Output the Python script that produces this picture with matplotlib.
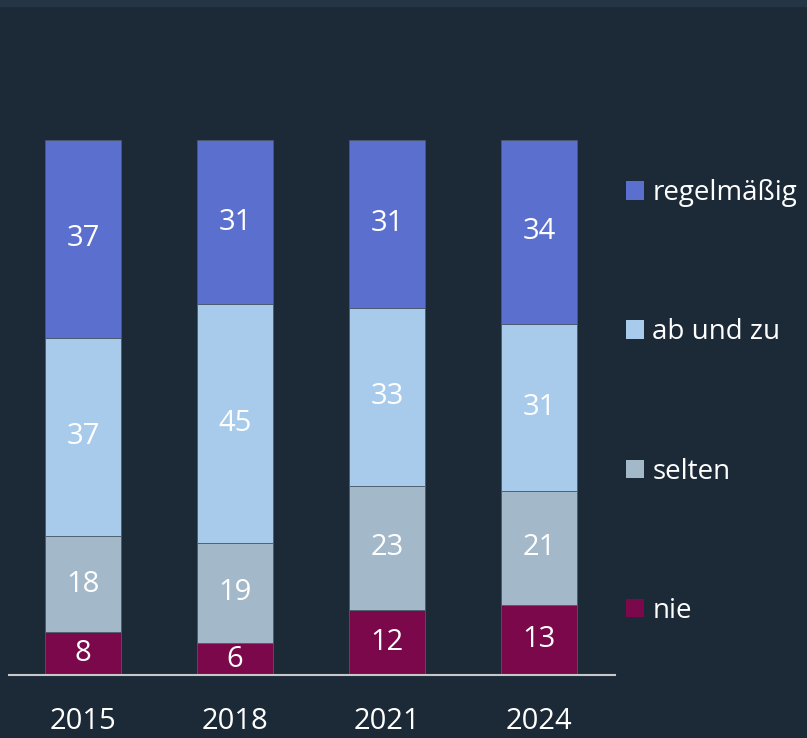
import matplotlib

matplotlib.use("Agg")
import matplotlib.pyplot as plt
import numpy as np
from matplotlib.patches import Patch

years = ["2015", "2018", "2021", "2024"]
nie = [8, 6, 12, 13]
selten = [18, 19, 23, 21]
ab_und_zu = [37, 45, 33, 31]
regelmaessig = [37, 31, 31, 34]

series = [
    ("nie", nie, "#7b084b"),
    ("selten", selten, "#a3b8c8"),
    ("ab und zu", ab_und_zu, "#a8cbec"),
    ("regelmäßig", regelmaessig, "#5b70ce"),
]

BG = "#1c2a37"
plt.rcParams["font.family"] = ["Open Sans", "DejaVu Sans"]

totals = np.sum([s[1] for s in series], axis=0)

fig = plt.figure(figsize=(8.07, 7.38), dpi=100, facecolor=BG)
# thin lighter strip at the very top
fig.patches.append(plt.Rectangle((0, 0.992), 1, 0.008, transform=fig.transFigure,
                                 color="#243546", zorder=0))
ax = fig.add_axes([0.01115, 0.0854, 0.7507, 0.7249])
ax.set_facecolor(BG)

x = np.arange(len(years))
bottom = np.zeros(len(years))
for name, vals, color in series:
    share = np.array(vals) / totals * 100
    bars = ax.bar(x, share, width=0.5, bottom=bottom, color=color,
                  edgecolor="#4a5a6a", linewidth=0.6, label=name)
    ax.bar_label(bars, labels=[str(v) for v in vals], label_type="center",
                 color="white", fontsize=21)
    bottom += share

ax.set_xlim(-0.487, 3.5)
ax.set_ylim(0, 100)
ax.set_xticks(x, years)
ax.tick_params(axis="x", length=0, pad=23, labelsize=21, labelcolor="white")
ax.set_yticks([])
for side in ["top", "right", "left"]:
    ax.spines[side].set_visible(False)
ax.spines["bottom"].set_color("#c8c8c8")
ax.spines["bottom"].set_linewidth(1.5)

handles = [Patch(facecolor=c, edgecolor="none") for _, _, c in series][::-1]
labels = [n for n, _, _ in series][::-1]
leg = fig.legend(handles, labels, loc="upper left", bbox_to_anchor=(0.762, 0.772),
                 frameon=False, fontsize=20, labelcolor="white",
                 handlelength=0.65, handleheight=0.65, handletextpad=0.3,
                 labelspacing=4.0, borderaxespad=0)

fig.savefig("out.png", dpi=100, facecolor=BG)
